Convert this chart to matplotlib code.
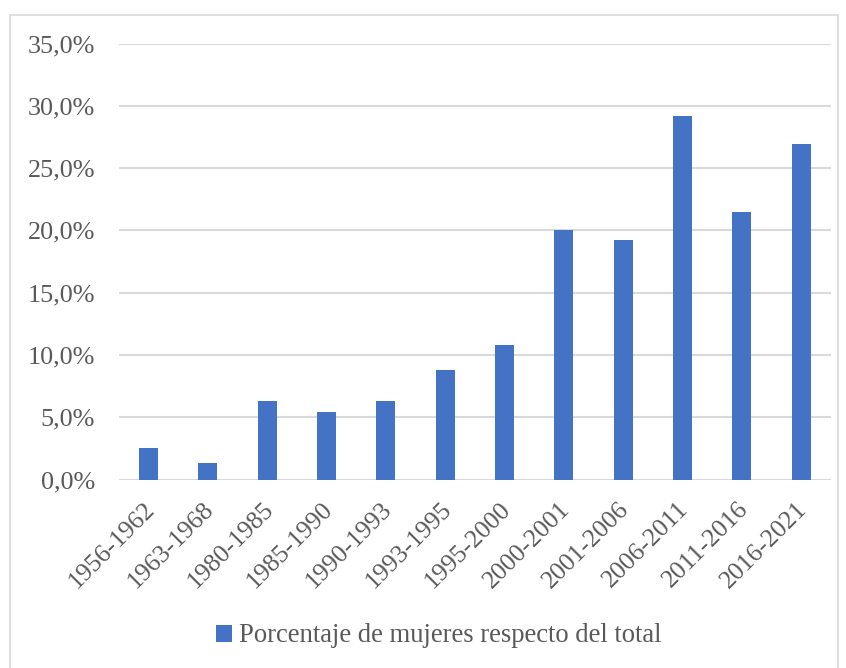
import matplotlib
matplotlib.use("Agg")
import matplotlib.pyplot as plt
from matplotlib.patches import Rectangle
from matplotlib.ticker import FuncFormatter
from matplotlib.transforms import ScaledTranslation

categories = ["1956-1962", "1963-1968", "1980-1985", "1985-1990", "1990-1993",
              "1993-1995", "1995-2000", "2000-2001", "2001-2006", "2006-2011",
              "2011-2016", "2016-2021"]
values = [2.5, 1.3, 6.3, 5.4, 6.3, 8.8, 10.8, 20.0, 19.2, 29.2, 21.5, 26.9]
series_name = "Porcentaje de mujeres respecto del total"
yticks = [0, 5, 10, 15, 20, 25, 30, 35]

plt.rcParams['font.family'] = ['Liberation Serif', 'DejaVu Serif']
W, H = 846, 668
fig = plt.figure(figsize=(W / 100, H / 100), dpi=100)
fig.patch.set_facecolor("white")

# outer chart border
fig.patches.append(Rectangle((9.5 / W, -0.01), (838 - 9.5) / W, 1 - 15 / H + 0.01,
                             transform=fig.transFigure, fill=False,
                             edgecolor="#d9d9d9", linewidth=1.2))

ax = fig.add_axes([118.8 / W, 1 - 479.5 / H, (830.7 - 118.8) / W, (479.5 - 43.5) / H])
x = list(range(len(categories)))
bars = ax.bar(x, values, width=0.32, color="#4472C4", zorder=3, label=series_name)
ax.set_xlim(-0.5, len(categories) - 0.5)
ax.set_ylim(0, 35)
ax.set_yticks(yticks)
ax.yaxis.set_major_formatter(FuncFormatter(lambda v, p: f"{v:.1f}%".replace(".", ",")))
ax.grid(axis="y", color="#d9d9d9", linewidth=1.5, zorder=0)
for s in ax.spines.values():
    s.set_visible(False)
ax.tick_params(axis="y", length=0, pad=17, labelsize=18.8, labelcolor="#595959")
ax.tick_params(axis="x", length=0, pad=6, labelsize=18.5, labelcolor="#595959")
ax.set_xticks(x)
ax.set_xticklabels(categories, rotation=45, ha="right", rotation_mode="anchor")
off = ScaledTranslation(-5 / 100, -10 / 100, fig.dpi_scale_trans)
for lbl in ax.get_xticklabels():
    lbl.set_transform(lbl.get_transform() + off)

leg = fig.legend(handles=[bars], labels=[series_name], loc="center",
                 bbox_to_anchor=(439 / W, 1 - 636 / H), frameon=False,
                 fontsize=19.2, handlelength=0.6, handleheight=0.6,
                 handletextpad=0.25, labelcolor="#595959")

fig.savefig("out.png", dpi=100, facecolor="white")
